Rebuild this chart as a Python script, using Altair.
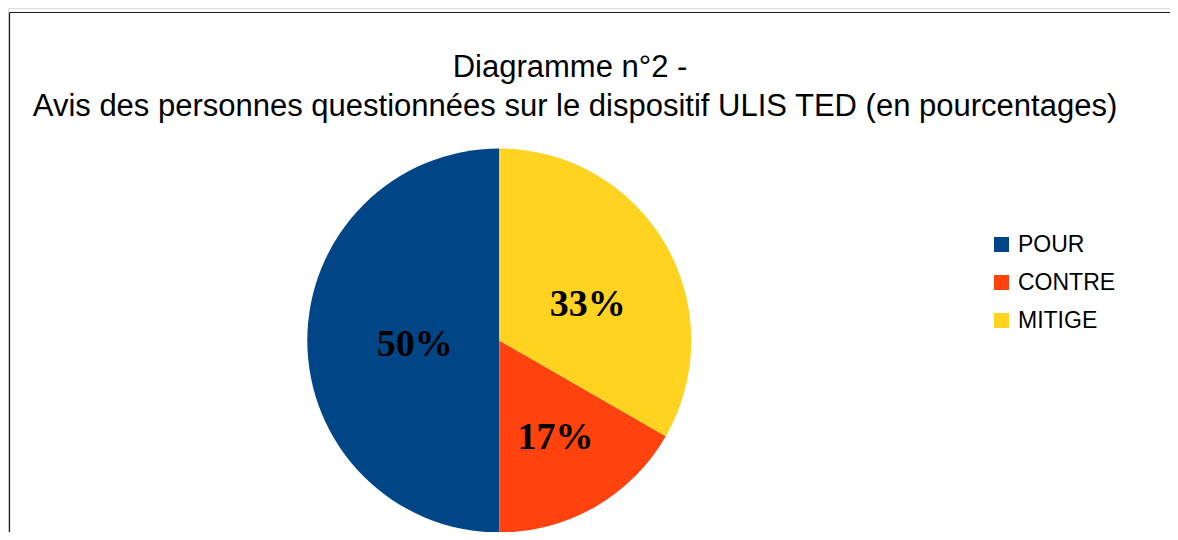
import altair as alt
import pandas as pd

# Data
categories = ["POUR", "CONTRE", "MITIGE"]
percentages = [50.0, 16.7, 33.3]
draw_order = [2, 1, 0]  # clockwise from top: MITIGE, CONTRE, POUR
colors = ["#004586", "#ff420e", "#ffd320"]
title_lines = ["Diagramme n°2 -",
               "Avis des personnes questionnées sur le dispositif ULIS TED (en pourcentages)"]

df = pd.DataFrame({"categorie": categories, "valeur": percentages, "ordre": draw_order})

W, H = 1162, 524
CX, CY = 491.3, 332.5

base = alt.Chart(df)

color = alt.Color("categorie:N",
                  scale=alt.Scale(domain=categories, range=colors),
                  sort=categories,
                  legend=alt.Legend(title=None, orient="none", legendX=982, legendY=225,
                                    symbolType="square", symbolSize=225,
                                    labelFontSize=23, labelFont="Liberation Sans",
                                    labelColor="#000000", rowPadding=14, labelOffset=5,
                                    padding=0, symbolStrokeWidth=0))

pie = base.mark_arc(outerRadius=192).encode(
    theta=alt.Theta("valeur:Q", stack=True),
    order=alt.Order("ordre:Q"),
    color=color,
    x=alt.value(CX), y=alt.value(CY),
)

stacked = base.transform_stack(
    stack="valeur", groupby=[], as_=["s0", "s1"], sort=[alt.SortField("ordre")]
).transform_calculate(
    mid="(datum.s0 + datum.s1) / 2",
    label="format(datum.valeur, '.0f') + '%'"
)

def label_layer(cat, r, dx, dy):
    return stacked.transform_filter(alt.datum.categorie == cat).mark_text(
        radius=r, dx=dx, dy=dy, font="Liberation Serif", fontWeight="bold", fontSize=38,
        color="#000000", baseline="middle", align="center"
    ).encode(
        theta=alt.Theta("mid:Q", stack=None, scale=alt.Scale(domain=[0, 100])),
        text="label:N",
        x=alt.value(CX), y=alt.value(CY),
    )

labels = (label_layer("POUR", 86, 1.5, 4) + label_layer("MITIGE", 94, 7, 12)
          + label_layer("CONTRE", 112, 0, 1))

one = alt.Chart(pd.DataFrame({"t1": [title_lines[0]], "t2": [title_lines[1]]}))
title1 = one.mark_text(font="Liberation Sans", fontSize=31, color="#000000",
                       baseline="alphabetic", align="center").encode(
    text="t1:N", x=alt.value(562), y=alt.value(69))
title2 = one.mark_text(font="Liberation Sans", fontSize=31, color="#000000",
                       baseline="alphabetic", align="center").encode(
    text="t2:N", x=alt.value(567), y=alt.value(107.5))

frame_left = one.mark_rule(color="#1a1a1a", strokeWidth=1.2).encode(
    x=alt.value(1.5), y=alt.value(4.5), y2=alt.value(H + 10))
frame_top = one.mark_rule(color="#1a1a1a", strokeWidth=1.2).encode(
    x=alt.value(1.5), x2=alt.value(W + 20), y=alt.value(4.5))

chart = alt.layer(frame_left, frame_top, pie, labels, title1, title2).properties(
    width=W, height=H, padding=0,
    autosize=alt.AutoSizeParams(type="none"),
).configure_view(stroke=None).configure(background="#ffffff")

chart.save("out.html", embed_options={"renderer": "svg", "actions": False})
